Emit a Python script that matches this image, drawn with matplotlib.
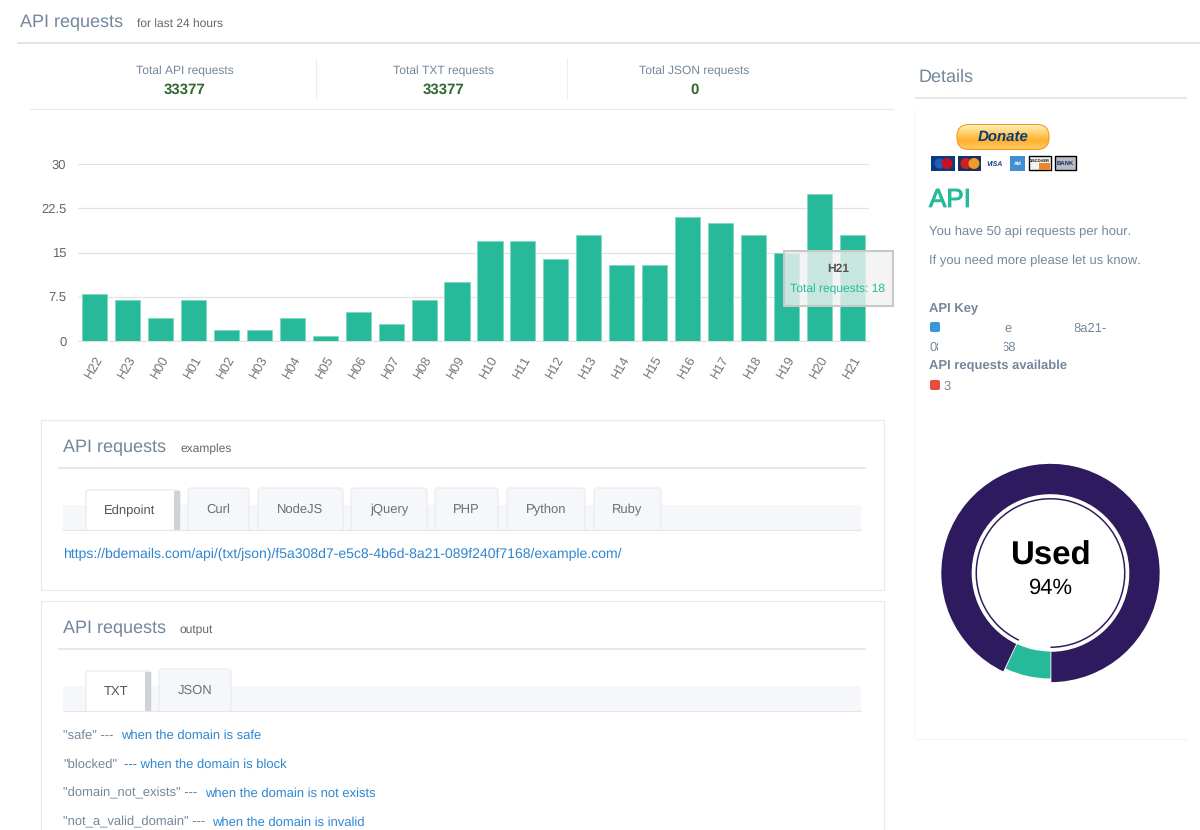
#!/usr/bin/env python3
import numpy as np
import matplotlib; matplotlib.use("Agg"); import matplotlib.pyplot as plt
import matplotlib.patheffects as pe
from matplotlib.patches import Rectangle, FancyBboxPatch, Circle
from matplotlib.transforms import ScaledTranslation

W, H = 1200, 830
plt.rcParams["font.family"] = ["Liberation Sans", "DejaVu Sans"]
plt.rcParams["text.hinting"] = "no_hinting"
plt.rcParams["text.hinting_factor"] = 1

# ---------- data ----------
hours = ["H22","H23","H00","H01","H02","H03","H04","H05","H06","H07","H08","H09",
         "H10","H11","H12","H13","H14","H15","H16","H17","H18","H19","H20","H21"]
total_requests = [8,7,4,7,2,2,4,1,5,3,7,10,17,17,14,18,13,13,21,20,18,15,25,18]
y_ticks = [0, 7.5, 15, 22.5, 30]
y_tick_labels = ["0", "7.5", "15", "22.5", "30"]
donut_used = 93
donut_free = 7
stat_labels = ["Total API requests", "Total TXT requests", "Total JSON requests"]
stat_values = ["33377", "33377", "0"]
example_tabs = ["Curl", "NodeJS", "jQuery", "PHP", "Python", "Ruby"]

TEAL = "#26B99A"; SLATE = "#73879C"; LINE = "#E6E9ED"; BLUE = "#2F86D0"; PURPLE = "#2E1A5E"

fig = plt.figure(figsize=(W/100, H/100), dpi=100, facecolor="white")

def px_axes(x0, y0, x1, y1, **kw):
    # axes placed with pixel coords of the page (y down)
    return fig.add_axes([x0/W, 1-y1/H, (x1-x0)/W, (y1-y0)/H], **kw)

page = px_axes(0, 0, W, H, zorder=0); page.set_xlim(0, W); page.set_ylim(H, 0); page.axis("off")
over = px_axes(0, 0, W, H, zorder=5); over.set_xlim(0, W); over.set_ylim(H, 0); over.axis("off")

def txt(x, y, s, px=13, color=SLATE, ha="left", weight="normal", ax=page, **kw):
    return ax.text(x, y+1.2, s, fontsize=px*0.72, color=color, ha=ha, va="center", fontweight=weight, **kw)

def hline(y, x0, x1, color=LINE, lw=1.4):
    page.plot([x0, x1], [y, y], color=color, lw=lw, solid_capstyle="butt")

def rect(x0, y0, x1, y1, fc="none", ec="none", lw=1, ax=page, **kw):
    ax.add_patch(Rectangle((x0, y0), x1-x0, y1-y0, fc=fc, ec=ec, lw=lw, **kw))

# ---------- header ----------
txt(20, 21, "API requests", 17.8)
txt(137, 22.5, "for last 24 hours", 11.9, "#666666")
hline(43, 17, 1200, "#E2E4E8", 1.4)
for cx, lab, val in zip([185, 443.5, 694.5], stat_labels, stat_values):
    txt(cx, 70, lab, 12.3, SLATE, ha="center")
    txt(cx, 89, val, 14.5, "#2F6B30", ha="center", weight="bold")
for x in [316, 567]:
    page.plot([x, x], [58, 99], color="#ECEEF0", lw=0.8)
hline(109, 30, 894, "#E8E8E8", 0.9)

# ---------- bar chart ----------
ax = px_axes(78, 164, 869, 341.5, zorder=2)
ax.patch.set_alpha(0)
ax.bar(range(len(hours)), total_requests, width=0.76, color=TEAL, edgecolor="#7FD8C2", linewidth=0.6, zorder=3)
ax.set_xlim(-0.5, 23.5); ax.set_ylim(0, 30)
ax.set_yticks(y_ticks); ax.set_yticklabels(y_tick_labels, fontsize=9.2, color="#666666")
ax.set_xticks(range(len(hours)))
ax.set_xticklabels(hours, rotation=60, ha="right", rotation_mode="anchor", fontsize=9.5, color="#777777")
shift = ScaledTranslation(-3/100, 0, fig.dpi_scale_trans)
for lb in ax.get_xticklabels():
    lb.set_transform(lb.get_transform() + shift)
ax.tick_params(length=0, pad=8.4, axis="y")
ax.tick_params(length=0, pad=9, axis="x")
ax.grid(axis="y", color="#E3E3E3", lw=0.9, zorder=0); ax.set_axisbelow(True)
for s in ax.spines.values(): s.set_visible(False)
ax.spines["bottom"].set_visible(True); ax.spines["bottom"].set_color("#E3E3E3")

# tooltip
rect(783.5, 251, 893, 306, fc=(0.95, 0.95, 0.95, 0.8), ec="#C8C8C8", lw=1.5, ax=over)
txt(838, 268, "H21", 12, "#555555", ha="center", weight="bold", ax=over)
txt(838, 288, "Total requests: 18", 12.2, TEAL, ha="center", ax=over)

# ---------- panels ----------
def panel(y0, y1, sub, head_y, line_y):
    rect(40.5, y0, 884, y1, ec="#E6E9ED", lw=0.8)
    txt(63, head_y, "API requests", 17.8)
    txt(180, head_y+2, sub, 12.2, "#666666")
    hline(line_y, 58, 866, "#E3E6EA", 1.3)

def tab(x0, x1, y0, y1, label, active=False):
    if active:
        page.add_patch(FancyBboxPatch((x0, y0), x1-x0, y1-y0+8, boxstyle="round,pad=0,rounding_size=3",
                                      fc="white", ec="#E3E6EA", lw=0.8, zorder=3))
        rect(x1-6, y0+1, x1, y1, fc="#CFD2D5", zorder=3)
        txt((x0+x1-6)/2, (y0+y1)/2, label, 13, "#555555", ha="center", zorder=4)
    else:
        page.add_patch(FancyBboxPatch((x0, y0), x1-x0, y1-y0+8, boxstyle="round,pad=0,rounding_size=3",
                                      fc="#F5F7FA", ec="#E8EAEE", lw=0.8, zorder=2))
        txt((x0+x1)/2, (y0+y1)/2, label, 13, "#6B6F75", ha="center", zorder=4)

panel(419.5, 590, "examples", 446, 468)
rect(63, 505, 861, 529.5, fc="#F5F7FA", zorder=1)
tab(86, 180, 490, 529.5, "Ednpoint", active=True)
for (x0, x1), lab in zip([(188,249),(258,343),(351,427),(435,498),(507,585),(594,661)], example_tabs):
    tab(x0, x1, 488, 529.5, lab)
rect(42, 529.5, 883, 540, fc="white", zorder=3)
page.plot([63, 861], [529.5, 529.5], color="#E3E6EA", lw=0.8, zorder=4)
txt(63, 553, "https://bdemails.com/api/(txt/json)/f5a308d7-e5c8-4b6d-8a21-089f240f7168/example.com/", 13.75, BLUE, zorder=4)

panel(601, 840, "output", 627, 649)
rect(63, 686, 861, 710.5, fc="#F5F7FA", zorder=1)
tab(86, 151, 671, 710.5, "TXT", active=True)
tab(159, 231, 669, 710.5, "JSON")
rect(42, 710.5, 883, 722, fc="white", zorder=3)
page.plot([63, 861], [710.5, 710.5], color="#E3E6EA", lw=0.8, zorder=4)
txt(63, 734, '"safe" ---', 13); txt(121, 734, "when the domain is safe", 13, BLUE)
txt(63, 763, '"blocked"', 13); txt(124, 763, "--- when the domain is block", 13, BLUE)
txt(63, 792, '"domain_not_exists" ---', 13); txt(205, 792, "when the domain is not exists", 13, BLUE)
txt(63, 821, '"not_a_valid_domain" ---', 13); txt(212, 821, "when the domain is invalid", 13, BLUE)

# ---------- right column ----------
txt(919, 76, "Details", 18.5)
hline(98, 915, 1187, "#E3E6EA", 1.3)
page.plot([913.5, 913.5], [110, 740], color="#F8F8F8", lw=0.8)
hline(739, 915, 1187, "#F4F4F4", 0.8)

# donate button
grad = np.linspace(0, 1, 30).reshape(-1, 1)
btn = page.imshow(grad, extent=(957, 1049, 149.5, 124.5), cmap=matplotlib.colors.LinearSegmentedColormap.from_list(
    "btn", ["#FFF0C8", "#FFD46E", "#FFB030", "#FFC860"]), aspect="auto", zorder=1)
clip = FancyBboxPatch((957, 124.5), 92, 25, boxstyle="round,pad=0,rounding_size=12", fc="none", ec="#F29A1E", lw=0.8, zorder=2)
page.add_patch(clip); btn.set_clip_path(clip)
page.set_xlim(0, W); page.set_ylim(H, 0)
txt(1003, 136, "Donate", 15, "#0F3A78", ha="center", weight="bold", style="italic", zorder=3)

# card icons
rect(931, 156, 955, 171, fc="#0A3A82")
page.add_patch(Circle((939.5, 163.5), 5, fc="#1F5FB8")); page.add_patch(Circle((947, 163.5), 5.5, fc="#C8101E"))
rect(958, 156, 981, 171, fc="#1E2F66")
page.add_patch(Circle((966, 163.5), 5.5, fc="#D0201E")); page.add_patch(Circle((974, 163.5), 5.5, fc="#F09A28"))
txt(995, 162.5, "VISA", 7.5, "#1B3F8C", ha="center", weight="bold", style="italic")
rect(1010, 156, 1025, 171, fc="#3F8FD2")
txt(1017.5, 162.5, "AM", 5, "white", ha="center", weight="bold")
rect(1028.5, 156.5, 1050.5, 170.5, fc="#F2F2F2", ec="black", lw=1)
rect(1039, 163, 1050, 170, fc="#E8882A")
txt(1039.5, 160, "DISCOVER", 3.6, "black", ha="center", weight="bold")
rect(1054.5, 156.5, 1075.5, 170.5, fc="#B8BCC4", ec="black", lw=1)
txt(1065, 162.5, "BANK", 5.6, "#1B2F66", ha="center", weight="bold")

txt(929, 199, "API", 26, TEAL, path_effects=[pe.withStroke(linewidth=0.7, foreground=TEAL)])
txt(929, 231, "You have 50 api requests per hour.", 13)
txt(929, 260, "If you need more please let us know.", 13)
txt(929, 308, "API Key", 12.5, weight="bold")
page.add_patch(FancyBboxPatch((930, 322), 10, 10, boxstyle="round,pad=0,rounding_size=2", fc="#3498DB", ec="none"))
txt(1004, 327, "e", 13)
txt(1073, 327, "8a21-", 13)
rect(1070, 320, 1075, 335, fc="white", zorder=3)
txt(929, 346, "08", 13)
rect(937.5, 339, 948, 354, fc="white", zorder=3)
txt(1001, 346, "68", 13)
rect(998, 339, 1003.5, 354, fc="white", zorder=3)
txt(929, 365, "API requests available", 12.5, weight="bold")
page.add_patch(FancyBboxPatch((930, 380), 10, 10, boxstyle="round,pad=0,rounding_size=2", fc="#E74C3C", ec="none"))
txt(944, 385, "3", 13)

# ---------- donut ----------
cx, cy, half = 1050.5, 573, 120
d = px_axes(cx-half, cy-half, cx+half, cy+half, zorder=3)
d.patch.set_alpha(0)
vals = [donut_used, donut_free]
w_outer, _ = d.pie(vals, radius=110, startangle=270, colors=[PURPLE, "none"], wedgeprops=dict(width=32))
w_teal, _ = d.pie(vals, radius=105.5, startangle=270, colors=["none", TEAL], wedgeprops=dict(width=27))
w_thin, _ = d.pie(vals, radius=75, startangle=270, colors=[PURPLE, "none"], wedgeprops=dict(width=1.5))
w_outer[0].set(edgecolor="white", linewidth=1.2); w_outer[1].set_visible(False)
w_teal[0].set_visible(False)
w_thin[0].set(edgecolor="none"); w_thin[1].set_visible(False)
d.set_xlim(-half, half); d.set_ylim(-half, half); d.set_aspect("equal")
txt(cx, 555, "Used", 33, "black", ha="center", weight="bold", ax=over)
txt(cx, 587, "94%", 22, "black", ha="center", ax=over)

fig.savefig("out.png", dpi=100)
